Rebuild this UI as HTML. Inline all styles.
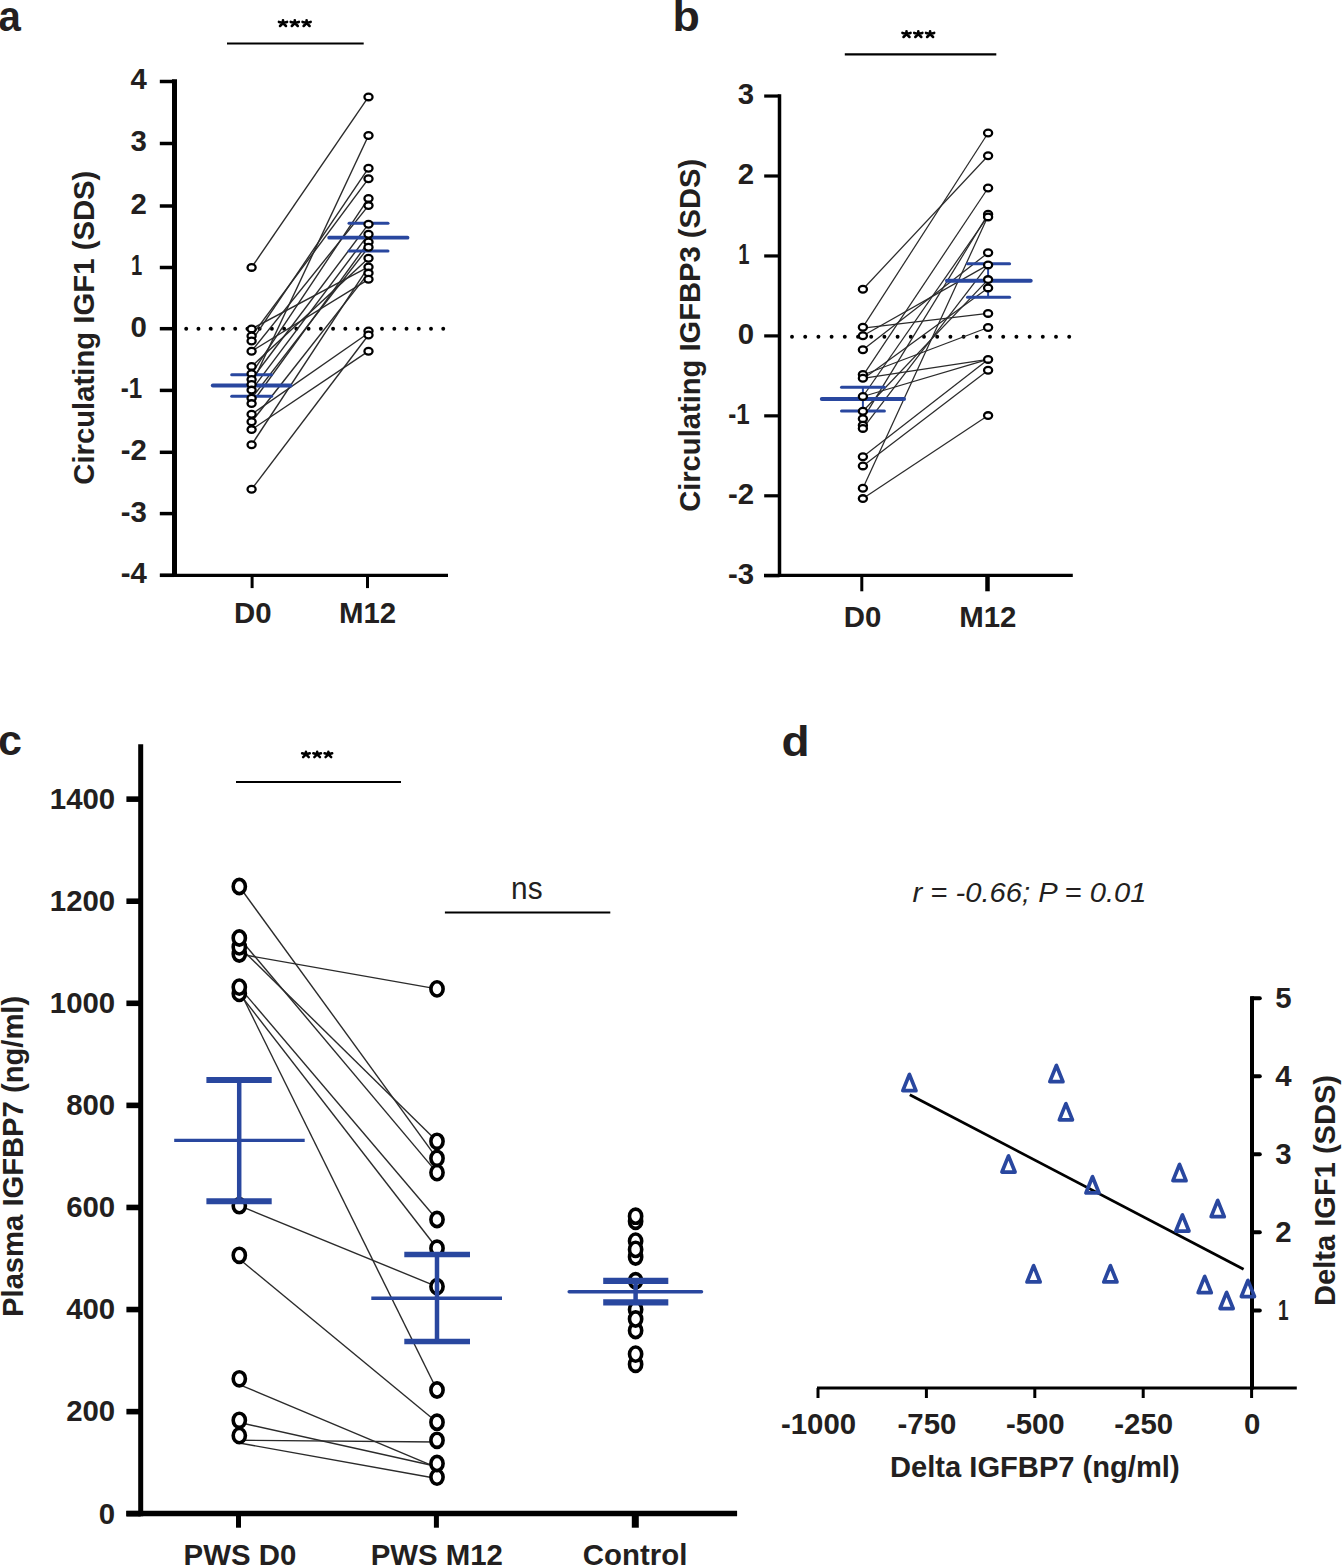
<!DOCTYPE html>
<html><head><meta charset="utf-8"><title>Figure</title>
<style>
html,body{margin:0;padding:0;background:#fff;}
body{width:1342px;height:1566px;overflow:hidden;}
svg{display:block;font-family:"Liberation Sans",sans-serif;}
</style></head>
<body>
<svg width="1342" height="1566" viewBox="0 0 1342 1566">
<rect width="1342" height="1566" fill="#fff"/>
<text transform="matrix(0.40189 0 0 0.42 -1.51 30.68)" font-size="100" font-weight="bold" fill="#231f20">a</text>
<line x1="227" y1="43.6" x2="363.7" y2="43.6" stroke="#000" stroke-width="2" stroke-linecap="butt"/>
<path d="M283 23L283 20.2M283 23L287.06 21.91M283 23L285.97 25.97M283 23L280.03 25.97M283 23L278.94 21.91" stroke="#000" stroke-width="2.6" stroke-linecap="round" fill="none"/>
<path d="M294.8 23L294.8 20.2M294.8 23L298.86 21.91M294.8 23L297.77 25.97M294.8 23L291.83 25.97M294.8 23L290.74 21.91" stroke="#000" stroke-width="2.6" stroke-linecap="round" fill="none"/>
<path d="M306.6 23L306.6 20.2M306.6 23L310.66 21.91M306.6 23L309.57 25.97M306.6 23L303.63 25.97M306.6 23L302.54 21.91" stroke="#000" stroke-width="2.6" stroke-linecap="round" fill="none"/>
<line x1="174.5" y1="79.2" x2="174.5" y2="576.9" stroke="#000" stroke-width="5" stroke-linecap="butt"/>
<line x1="160" y1="575.3" x2="448" y2="575.3" stroke="#000" stroke-width="3.2" stroke-linecap="butt"/>
<line x1="159.8" y1="81.5" x2="174.5" y2="81.5" stroke="#000" stroke-width="3.5" stroke-linecap="butt"/>
<line x1="159.8" y1="143.5" x2="174.5" y2="143.5" stroke="#000" stroke-width="3.5" stroke-linecap="butt"/>
<line x1="159.8" y1="206" x2="174.5" y2="206" stroke="#000" stroke-width="3.5" stroke-linecap="butt"/>
<line x1="159.8" y1="267.5" x2="174.5" y2="267.5" stroke="#000" stroke-width="3.5" stroke-linecap="butt"/>
<line x1="159.8" y1="328.7" x2="174.5" y2="328.7" stroke="#000" stroke-width="3.5" stroke-linecap="butt"/>
<line x1="159.8" y1="390.4" x2="174.5" y2="390.4" stroke="#000" stroke-width="3.5" stroke-linecap="butt"/>
<line x1="159.8" y1="452.3" x2="174.5" y2="452.3" stroke="#000" stroke-width="3.5" stroke-linecap="butt"/>
<line x1="159.8" y1="513.6" x2="174.5" y2="513.6" stroke="#000" stroke-width="3.5" stroke-linecap="butt"/>
<line x1="159.8" y1="575.3" x2="174.5" y2="575.3" stroke="#000" stroke-width="3.5" stroke-linecap="butt"/>
<line x1="252.1" y1="575" x2="252.1" y2="588.1" stroke="#000" stroke-width="3" stroke-linecap="butt"/>
<line x1="367.5" y1="575" x2="367.5" y2="588.1" stroke="#000" stroke-width="3" stroke-linecap="butt"/>
<text transform="matrix(0.294 0 0 0.298 146.8 89.4)" font-size="100" font-weight="bold" text-anchor="end" fill="#231f20">4</text>
<text transform="matrix(0.294 0 0 0.298 146.8 151.4)" font-size="100" font-weight="bold" text-anchor="end" fill="#231f20">3</text>
<text transform="matrix(0.294 0 0 0.298 146.8 213.9)" font-size="100" font-weight="bold" text-anchor="end" fill="#231f20">2</text>
<text transform="matrix(0.202 0 0 0.298 142.2 275.4)" font-size="100" font-weight="bold" text-anchor="end" fill="#231f20">1</text>
<text transform="matrix(0.294 0 0 0.298 146.8 336.6)" font-size="100" font-weight="bold" text-anchor="end" fill="#231f20">0</text>
<text transform="matrix(0.2415 0 0 0.298 142.2 398.3)" font-size="100" font-weight="bold" text-anchor="end" fill="#231f20">-1</text>
<text transform="matrix(0.294 0 0 0.298 146.8 460.2)" font-size="100" font-weight="bold" text-anchor="end" fill="#231f20">-2</text>
<text transform="matrix(0.294 0 0 0.298 146.8 521.5)" font-size="100" font-weight="bold" text-anchor="end" fill="#231f20">-3</text>
<text transform="matrix(0.294 0 0 0.298 146.8 583.1)" font-size="100" font-weight="bold" text-anchor="end" fill="#231f20">-4</text>
<text transform="matrix(0 -0.29304 0.29149 0 94.08 484.77)" font-size="100" font-weight="bold" fill="#231f20">Circulating IGF1 (SDS)</text>
<text transform="matrix(0.294 0 0 0.298 252.9 622.9)" font-size="100" font-weight="bold" text-anchor="middle" fill="#231f20">D0</text>
<text transform="matrix(0.294 0 0 0.298 367.5 622.9)" font-size="100" font-weight="bold" text-anchor="middle" fill="#231f20">M12</text>
<circle cx="186.2" cy="328.7" r="1.95" fill="#000"/>
<circle cx="198.44" cy="328.7" r="1.95" fill="#000"/>
<circle cx="210.68" cy="328.7" r="1.95" fill="#000"/>
<circle cx="222.92" cy="328.7" r="1.95" fill="#000"/>
<circle cx="235.16" cy="328.7" r="1.95" fill="#000"/>
<circle cx="247.4" cy="328.7" r="1.95" fill="#000"/>
<circle cx="259.64" cy="328.7" r="1.95" fill="#000"/>
<circle cx="271.88" cy="328.7" r="1.95" fill="#000"/>
<circle cx="284.12" cy="328.7" r="1.95" fill="#000"/>
<circle cx="296.36" cy="328.7" r="1.95" fill="#000"/>
<circle cx="308.6" cy="328.7" r="1.95" fill="#000"/>
<circle cx="320.84" cy="328.7" r="1.95" fill="#000"/>
<circle cx="333.08" cy="328.7" r="1.95" fill="#000"/>
<circle cx="345.32" cy="328.7" r="1.95" fill="#000"/>
<circle cx="357.56" cy="328.7" r="1.95" fill="#000"/>
<circle cx="369.8" cy="328.7" r="1.95" fill="#000"/>
<circle cx="382.04" cy="328.7" r="1.95" fill="#000"/>
<circle cx="394.28" cy="328.7" r="1.95" fill="#000"/>
<circle cx="406.52" cy="328.7" r="1.95" fill="#000"/>
<circle cx="418.76" cy="328.7" r="1.95" fill="#000"/>
<circle cx="431" cy="328.7" r="1.95" fill="#000"/>
<circle cx="443.24" cy="328.7" r="1.95" fill="#000"/>
<line x1="251.6" y1="267.4" x2="368.5" y2="96.9" stroke="#2b2b2b" stroke-width="1.4" stroke-linecap="butt"/>
<line x1="251.6" y1="328.9" x2="368.5" y2="266.9" stroke="#2b2b2b" stroke-width="1.4" stroke-linecap="butt"/>
<line x1="251.6" y1="335.9" x2="368.5" y2="178.7" stroke="#2b2b2b" stroke-width="1.4" stroke-linecap="butt"/>
<line x1="251.6" y1="341" x2="368.5" y2="168.2" stroke="#2b2b2b" stroke-width="1.4" stroke-linecap="butt"/>
<line x1="251.6" y1="351.2" x2="368.5" y2="279.3" stroke="#2b2b2b" stroke-width="1.4" stroke-linecap="butt"/>
<line x1="251.6" y1="351.2" x2="368.5" y2="205.6" stroke="#2b2b2b" stroke-width="1.4" stroke-linecap="butt"/>
<line x1="251.6" y1="366.4" x2="368.5" y2="258.2" stroke="#2b2b2b" stroke-width="1.4" stroke-linecap="butt"/>
<line x1="251.6" y1="373.7" x2="368.5" y2="198.4" stroke="#2b2b2b" stroke-width="1.4" stroke-linecap="butt"/>
<line x1="251.6" y1="379.4" x2="368.5" y2="224.2" stroke="#2b2b2b" stroke-width="1.4" stroke-linecap="butt"/>
<line x1="251.6" y1="384.5" x2="368.5" y2="135.5" stroke="#2b2b2b" stroke-width="1.4" stroke-linecap="butt"/>
<line x1="251.6" y1="390.1" x2="368.5" y2="234.3" stroke="#2b2b2b" stroke-width="1.4" stroke-linecap="butt"/>
<line x1="251.6" y1="398.3" x2="368.5" y2="247.2" stroke="#2b2b2b" stroke-width="1.4" stroke-linecap="butt"/>
<line x1="251.6" y1="403.6" x2="368.5" y2="242" stroke="#2b2b2b" stroke-width="1.4" stroke-linecap="butt"/>
<line x1="251.6" y1="414.3" x2="368.5" y2="333" stroke="#2b2b2b" stroke-width="1.4" stroke-linecap="butt"/>
<line x1="251.6" y1="421.8" x2="368.5" y2="273.1" stroke="#2b2b2b" stroke-width="1.4" stroke-linecap="butt"/>
<line x1="251.6" y1="429.6" x2="368.5" y2="351.2" stroke="#2b2b2b" stroke-width="1.4" stroke-linecap="butt"/>
<line x1="251.6" y1="444.8" x2="368.5" y2="266.9" stroke="#2b2b2b" stroke-width="1.4" stroke-linecap="butt"/>
<line x1="251.6" y1="489.2" x2="368.5" y2="335" stroke="#2b2b2b" stroke-width="1.4" stroke-linecap="butt"/>
<line x1="212.8" y1="385.5" x2="290.5" y2="385.5" stroke="#29479f" stroke-width="4" stroke-linecap="round"/>
<line x1="231.7" y1="374.8" x2="271.6" y2="374.8" stroke="#29479f" stroke-width="3" stroke-linecap="round"/>
<line x1="231.7" y1="396.2" x2="271.6" y2="396.2" stroke="#29479f" stroke-width="3" stroke-linecap="round"/>
<line x1="329.2" y1="237.7" x2="407.5" y2="237.7" stroke="#29479f" stroke-width="3.8" stroke-linecap="round"/>
<line x1="349" y1="223.2" x2="388" y2="223.2" stroke="#29479f" stroke-width="3" stroke-linecap="round"/>
<line x1="349" y1="251.1" x2="388" y2="251.1" stroke="#29479f" stroke-width="3" stroke-linecap="round"/>
<ellipse cx="251.6" cy="267.4" rx="4.05" ry="3.35" fill="#fff" stroke="#000" stroke-width="2.3"/>
<ellipse cx="251.6" cy="328.9" rx="4.05" ry="3.35" fill="#fff" stroke="#000" stroke-width="2.3"/>
<ellipse cx="251.6" cy="335.9" rx="4.05" ry="3.35" fill="#fff" stroke="#000" stroke-width="2.3"/>
<ellipse cx="251.6" cy="341" rx="4.05" ry="3.35" fill="#fff" stroke="#000" stroke-width="2.3"/>
<ellipse cx="251.6" cy="351.2" rx="4.05" ry="3.35" fill="#fff" stroke="#000" stroke-width="2.3"/>
<ellipse cx="251.6" cy="366.4" rx="4.05" ry="3.35" fill="#fff" stroke="#000" stroke-width="2.3"/>
<ellipse cx="251.6" cy="373.7" rx="4.05" ry="3.35" fill="#fff" stroke="#000" stroke-width="2.3"/>
<ellipse cx="251.6" cy="379.4" rx="4.05" ry="3.35" fill="#fff" stroke="#000" stroke-width="2.3"/>
<ellipse cx="251.6" cy="384.5" rx="4.05" ry="3.35" fill="#fff" stroke="#000" stroke-width="2.3"/>
<ellipse cx="251.6" cy="390.1" rx="4.05" ry="3.35" fill="#fff" stroke="#000" stroke-width="2.3"/>
<ellipse cx="251.6" cy="398.3" rx="4.05" ry="3.35" fill="#fff" stroke="#000" stroke-width="2.3"/>
<ellipse cx="251.6" cy="403.6" rx="4.05" ry="3.35" fill="#fff" stroke="#000" stroke-width="2.3"/>
<ellipse cx="251.6" cy="414.3" rx="4.05" ry="3.35" fill="#fff" stroke="#000" stroke-width="2.3"/>
<ellipse cx="251.6" cy="421.8" rx="4.05" ry="3.35" fill="#fff" stroke="#000" stroke-width="2.3"/>
<ellipse cx="251.6" cy="429.6" rx="4.05" ry="3.35" fill="#fff" stroke="#000" stroke-width="2.3"/>
<ellipse cx="251.6" cy="444.8" rx="4.05" ry="3.35" fill="#fff" stroke="#000" stroke-width="2.3"/>
<ellipse cx="251.6" cy="489.2" rx="4.05" ry="3.35" fill="#fff" stroke="#000" stroke-width="2.3"/>
<ellipse cx="368.5" cy="96.9" rx="4.05" ry="3.35" fill="#fff" stroke="#000" stroke-width="2.3"/>
<ellipse cx="368.5" cy="135.5" rx="4.05" ry="3.35" fill="#fff" stroke="#000" stroke-width="2.3"/>
<ellipse cx="368.5" cy="168.2" rx="4.05" ry="3.35" fill="#fff" stroke="#000" stroke-width="2.3"/>
<ellipse cx="368.5" cy="178.7" rx="4.05" ry="3.35" fill="#fff" stroke="#000" stroke-width="2.3"/>
<ellipse cx="368.5" cy="198.4" rx="4.05" ry="3.35" fill="#fff" stroke="#000" stroke-width="2.3"/>
<ellipse cx="368.5" cy="205.6" rx="4.05" ry="3.35" fill="#fff" stroke="#000" stroke-width="2.3"/>
<ellipse cx="368.5" cy="224.2" rx="4.05" ry="3.35" fill="#fff" stroke="#000" stroke-width="2.3"/>
<ellipse cx="368.5" cy="234.3" rx="4.05" ry="3.35" fill="#fff" stroke="#000" stroke-width="2.3"/>
<ellipse cx="368.5" cy="242" rx="4.05" ry="3.35" fill="#fff" stroke="#000" stroke-width="2.3"/>
<ellipse cx="368.5" cy="247.2" rx="4.05" ry="3.35" fill="#fff" stroke="#000" stroke-width="2.3"/>
<ellipse cx="368.5" cy="258.2" rx="4.05" ry="3.35" fill="#fff" stroke="#000" stroke-width="2.3"/>
<ellipse cx="368.5" cy="266.9" rx="4.05" ry="3.35" fill="#fff" stroke="#000" stroke-width="2.3"/>
<ellipse cx="368.5" cy="273.1" rx="4.05" ry="3.35" fill="#fff" stroke="#000" stroke-width="2.3"/>
<ellipse cx="368.5" cy="279.3" rx="4.05" ry="3.35" fill="#fff" stroke="#000" stroke-width="2.3"/>
<ellipse cx="368.5" cy="331" rx="4.05" ry="3.35" fill="#fff" stroke="#000" stroke-width="2.3"/>
<ellipse cx="368.5" cy="335" rx="4.05" ry="3.35" fill="#fff" stroke="#000" stroke-width="2.3"/>
<ellipse cx="368.5" cy="351.2" rx="4.05" ry="3.35" fill="#fff" stroke="#000" stroke-width="2.3"/>
<text transform="matrix(0.448 0 0 0.42 672.46 31.1)" font-size="100" font-weight="bold" fill="#231f20">b</text>
<line x1="844.8" y1="54.3" x2="996.3" y2="54.3" stroke="#000" stroke-width="2.2" stroke-linecap="butt"/>
<path d="M906.5 34L906.5 31.2M906.5 34L910.56 32.91M906.5 34L909.47 36.97M906.5 34L903.53 36.97M906.5 34L902.44 32.91" stroke="#000" stroke-width="2.6" stroke-linecap="round" fill="none"/>
<path d="M918.3 34L918.3 31.2M918.3 34L922.36 32.91M918.3 34L921.27 36.97M918.3 34L915.33 36.97M918.3 34L914.24 32.91" stroke="#000" stroke-width="2.6" stroke-linecap="round" fill="none"/>
<path d="M930.1 34L930.1 31.2M930.1 34L934.16 32.91M930.1 34L933.07 36.97M930.1 34L927.13 36.97M930.1 34L926.04 32.91" stroke="#000" stroke-width="2.6" stroke-linecap="round" fill="none"/>
<line x1="779.5" y1="94.2" x2="779.5" y2="576.9" stroke="#000" stroke-width="3.5" stroke-linecap="butt"/>
<line x1="764" y1="575.3" x2="1072.8" y2="575.3" stroke="#000" stroke-width="3.2" stroke-linecap="butt"/>
<line x1="764.2" y1="96.05" x2="779.5" y2="96.05" stroke="#000" stroke-width="3.2" stroke-linecap="butt"/>
<text transform="matrix(0.294 0 0 0.298 754.2 104.25)" font-size="100" font-weight="bold" text-anchor="end" fill="#231f20">3</text>
<line x1="764.2" y1="176" x2="779.5" y2="176" stroke="#000" stroke-width="3.2" stroke-linecap="butt"/>
<text transform="matrix(0.294 0 0 0.298 754.2 184.2)" font-size="100" font-weight="bold" text-anchor="end" fill="#231f20">2</text>
<line x1="764.2" y1="255.95" x2="779.5" y2="255.95" stroke="#000" stroke-width="3.2" stroke-linecap="butt"/>
<text transform="matrix(0.202 0 0 0.298 749.6 264.15)" font-size="100" font-weight="bold" text-anchor="end" fill="#231f20">1</text>
<line x1="764.2" y1="335.9" x2="779.5" y2="335.9" stroke="#000" stroke-width="3.2" stroke-linecap="butt"/>
<text transform="matrix(0.294 0 0 0.298 754.2 344.1)" font-size="100" font-weight="bold" text-anchor="end" fill="#231f20">0</text>
<line x1="764.2" y1="415.85" x2="779.5" y2="415.85" stroke="#000" stroke-width="3.2" stroke-linecap="butt"/>
<text transform="matrix(0.2415 0 0 0.298 749.6 424.05)" font-size="100" font-weight="bold" text-anchor="end" fill="#231f20">-1</text>
<line x1="764.2" y1="495.8" x2="779.5" y2="495.8" stroke="#000" stroke-width="3.2" stroke-linecap="butt"/>
<text transform="matrix(0.294 0 0 0.298 754.2 504)" font-size="100" font-weight="bold" text-anchor="end" fill="#231f20">-2</text>
<line x1="764.2" y1="575.75" x2="779.5" y2="575.75" stroke="#000" stroke-width="3.2" stroke-linecap="butt"/>
<text transform="matrix(0.294 0 0 0.298 754.2 583.95)" font-size="100" font-weight="bold" text-anchor="end" fill="#231f20">-3</text>
<line x1="861.8" y1="575" x2="861.8" y2="591.3" stroke="#000" stroke-width="3" stroke-linecap="butt"/>
<line x1="987.5" y1="575" x2="987.5" y2="591.3" stroke="#000" stroke-width="4.5" stroke-linecap="butt"/>
<text transform="matrix(0 -0.29168 0.29894 0 699.82 511.87)" font-size="100" font-weight="bold" fill="#231f20">Circulating IGFBP3 (SDS)</text>
<text transform="matrix(0.294 0 0 0.298 862.6 627.2)" font-size="100" font-weight="bold" text-anchor="middle" fill="#231f20">D0</text>
<text transform="matrix(0.294 0 0 0.298 987.8 627.2)" font-size="100" font-weight="bold" text-anchor="middle" fill="#231f20">M12</text>
<circle cx="792" cy="336.8" r="1.95" fill="#000"/>
<circle cx="805.2" cy="336.8" r="1.95" fill="#000"/>
<circle cx="818.4" cy="336.8" r="1.95" fill="#000"/>
<circle cx="831.6" cy="336.8" r="1.95" fill="#000"/>
<circle cx="844.8" cy="336.8" r="1.95" fill="#000"/>
<circle cx="858" cy="336.8" r="1.95" fill="#000"/>
<circle cx="871.2" cy="336.8" r="1.95" fill="#000"/>
<circle cx="884.4" cy="336.8" r="1.95" fill="#000"/>
<circle cx="897.6" cy="336.8" r="1.95" fill="#000"/>
<circle cx="910.8" cy="336.8" r="1.95" fill="#000"/>
<circle cx="924" cy="336.8" r="1.95" fill="#000"/>
<circle cx="937.2" cy="336.8" r="1.95" fill="#000"/>
<circle cx="950.4" cy="336.8" r="1.95" fill="#000"/>
<circle cx="963.6" cy="336.8" r="1.95" fill="#000"/>
<circle cx="976.8" cy="336.8" r="1.95" fill="#000"/>
<circle cx="990" cy="336.8" r="1.95" fill="#000"/>
<circle cx="1003.2" cy="336.8" r="1.95" fill="#000"/>
<circle cx="1016.4" cy="336.8" r="1.95" fill="#000"/>
<circle cx="1029.6" cy="336.8" r="1.95" fill="#000"/>
<circle cx="1042.8" cy="336.8" r="1.95" fill="#000"/>
<circle cx="1056" cy="336.8" r="1.95" fill="#000"/>
<circle cx="1069.2" cy="336.8" r="1.95" fill="#000"/>
<line x1="862.9" y1="289.2" x2="988.1" y2="155.8" stroke="#2b2b2b" stroke-width="1.25" stroke-linecap="butt"/>
<line x1="862.9" y1="327.2" x2="988.1" y2="133" stroke="#2b2b2b" stroke-width="1.25" stroke-linecap="butt"/>
<line x1="862.9" y1="328.1" x2="988.1" y2="313.4" stroke="#2b2b2b" stroke-width="1.25" stroke-linecap="butt"/>
<line x1="862.9" y1="335.8" x2="988.1" y2="264.9" stroke="#2b2b2b" stroke-width="1.25" stroke-linecap="butt"/>
<line x1="862.9" y1="349.8" x2="988.1" y2="252.8" stroke="#2b2b2b" stroke-width="1.25" stroke-linecap="butt"/>
<line x1="862.9" y1="375.6" x2="988.1" y2="188" stroke="#2b2b2b" stroke-width="1.25" stroke-linecap="butt"/>
<line x1="862.9" y1="375" x2="988.1" y2="327.5" stroke="#2b2b2b" stroke-width="1.25" stroke-linecap="butt"/>
<line x1="862.9" y1="378.3" x2="988.1" y2="359.4" stroke="#2b2b2b" stroke-width="1.25" stroke-linecap="butt"/>
<line x1="862.9" y1="379" x2="988.1" y2="287.9" stroke="#2b2b2b" stroke-width="1.25" stroke-linecap="butt"/>
<line x1="862.9" y1="396.5" x2="988.1" y2="359.4" stroke="#2b2b2b" stroke-width="1.25" stroke-linecap="butt"/>
<line x1="862.9" y1="396.5" x2="988.1" y2="216" stroke="#2b2b2b" stroke-width="1.25" stroke-linecap="butt"/>
<line x1="862.9" y1="411.2" x2="988.1" y2="279.6" stroke="#2b2b2b" stroke-width="1.25" stroke-linecap="butt"/>
<line x1="862.9" y1="418.8" x2="988.1" y2="214.2" stroke="#2b2b2b" stroke-width="1.25" stroke-linecap="butt"/>
<line x1="862.9" y1="428.4" x2="988.1" y2="264.9" stroke="#2b2b2b" stroke-width="1.25" stroke-linecap="butt"/>
<line x1="862.9" y1="456.8" x2="988.1" y2="359.4" stroke="#2b2b2b" stroke-width="1.25" stroke-linecap="butt"/>
<line x1="862.9" y1="465.9" x2="988.1" y2="370.3" stroke="#2b2b2b" stroke-width="1.25" stroke-linecap="butt"/>
<line x1="862.9" y1="488.2" x2="988.1" y2="216" stroke="#2b2b2b" stroke-width="1.25" stroke-linecap="butt"/>
<line x1="862.9" y1="498.6" x2="988.1" y2="415.6" stroke="#2b2b2b" stroke-width="1.25" stroke-linecap="butt"/>
<line x1="821.8" y1="398.9" x2="904" y2="398.9" stroke="#29479f" stroke-width="4" stroke-linecap="round"/>
<line x1="841.5" y1="387.3" x2="884.4" y2="387.3" stroke="#29479f" stroke-width="3" stroke-linecap="round"/>
<line x1="841.5" y1="410.9" x2="884.4" y2="410.9" stroke="#29479f" stroke-width="3" stroke-linecap="round"/>
<line x1="862.9" y1="387.3" x2="862.9" y2="410.9" stroke="#29479f" stroke-width="2" stroke-linecap="butt"/>
<line x1="947" y1="280.8" x2="1030.7" y2="280.8" stroke="#29479f" stroke-width="4" stroke-linecap="round"/>
<line x1="967.5" y1="263.8" x2="1009.6" y2="263.8" stroke="#29479f" stroke-width="3" stroke-linecap="round"/>
<line x1="967.5" y1="297.2" x2="1009.6" y2="297.2" stroke="#29479f" stroke-width="3" stroke-linecap="round"/>
<line x1="988.1" y1="263.8" x2="988.1" y2="297.2" stroke="#29479f" stroke-width="2" stroke-linecap="butt"/>
<ellipse cx="862.9" cy="289.2" rx="4.05" ry="3.35" fill="#fff" stroke="#000" stroke-width="2.3"/>
<ellipse cx="862.9" cy="327.2" rx="4.05" ry="3.35" fill="#fff" stroke="#000" stroke-width="2.3"/>
<ellipse cx="862.9" cy="335.8" rx="4.05" ry="3.35" fill="#fff" stroke="#000" stroke-width="2.3"/>
<ellipse cx="862.9" cy="349.8" rx="4.05" ry="3.35" fill="#fff" stroke="#000" stroke-width="2.3"/>
<ellipse cx="862.9" cy="374.5" rx="4.05" ry="3.35" fill="#fff" stroke="#000" stroke-width="2.3"/>
<ellipse cx="862.9" cy="378.3" rx="4.05" ry="3.35" fill="#fff" stroke="#000" stroke-width="2.3"/>
<ellipse cx="862.9" cy="396.5" rx="4.05" ry="3.35" fill="#fff" stroke="#000" stroke-width="2.3"/>
<ellipse cx="862.9" cy="411.2" rx="4.05" ry="3.35" fill="#fff" stroke="#000" stroke-width="2.3"/>
<ellipse cx="862.9" cy="418.8" rx="4.05" ry="3.35" fill="#fff" stroke="#000" stroke-width="2.3"/>
<ellipse cx="862.9" cy="425.2" rx="4.05" ry="3.35" fill="#fff" stroke="#000" stroke-width="2.3"/>
<ellipse cx="862.9" cy="428.4" rx="4.05" ry="3.35" fill="#fff" stroke="#000" stroke-width="2.3"/>
<ellipse cx="862.9" cy="456.8" rx="4.05" ry="3.35" fill="#fff" stroke="#000" stroke-width="2.3"/>
<ellipse cx="862.9" cy="465.9" rx="4.05" ry="3.35" fill="#fff" stroke="#000" stroke-width="2.3"/>
<ellipse cx="862.9" cy="488.2" rx="4.05" ry="3.35" fill="#fff" stroke="#000" stroke-width="2.3"/>
<ellipse cx="862.9" cy="498.6" rx="4.05" ry="3.35" fill="#fff" stroke="#000" stroke-width="2.3"/>
<ellipse cx="988.1" cy="133" rx="4.05" ry="3.35" fill="#fff" stroke="#000" stroke-width="2.3"/>
<ellipse cx="988.1" cy="155.8" rx="4.05" ry="3.35" fill="#fff" stroke="#000" stroke-width="2.3"/>
<ellipse cx="988.1" cy="188" rx="4.05" ry="3.35" fill="#fff" stroke="#000" stroke-width="2.3"/>
<ellipse cx="988.1" cy="214.2" rx="4.05" ry="3.35" fill="#fff" stroke="#000" stroke-width="2.3"/>
<ellipse cx="988.1" cy="216.9" rx="4.05" ry="3.35" fill="#fff" stroke="#000" stroke-width="2.3"/>
<ellipse cx="988.1" cy="252.8" rx="4.05" ry="3.35" fill="#fff" stroke="#000" stroke-width="2.3"/>
<ellipse cx="988.1" cy="264.9" rx="4.05" ry="3.35" fill="#fff" stroke="#000" stroke-width="2.3"/>
<ellipse cx="988.1" cy="279.6" rx="4.05" ry="3.35" fill="#fff" stroke="#000" stroke-width="2.3"/>
<ellipse cx="988.1" cy="287.9" rx="4.05" ry="3.35" fill="#fff" stroke="#000" stroke-width="2.3"/>
<ellipse cx="988.1" cy="313.4" rx="4.05" ry="3.35" fill="#fff" stroke="#000" stroke-width="2.3"/>
<ellipse cx="988.1" cy="327.5" rx="4.05" ry="3.35" fill="#fff" stroke="#000" stroke-width="2.3"/>
<ellipse cx="988.1" cy="359.4" rx="4.05" ry="3.35" fill="#fff" stroke="#000" stroke-width="2.3"/>
<ellipse cx="988.1" cy="370.3" rx="4.05" ry="3.35" fill="#fff" stroke="#000" stroke-width="2.3"/>
<ellipse cx="988.1" cy="415.6" rx="4.05" ry="3.35" fill="#fff" stroke="#000" stroke-width="2.3"/>
<text transform="matrix(0.43061 0 0 0.42727 -1.92 755.37)" font-size="100" font-weight="bold" fill="#231f20">c</text>
<line x1="236" y1="781.9" x2="401" y2="781.9" stroke="#000" stroke-width="2" stroke-linecap="butt"/>
<path d="M305.94 754.3L305.94 751.64M305.94 754.3L309.79 753.27M305.94 754.3L308.76 757.12M305.94 754.3L303.12 757.12M305.94 754.3L302.09 753.27" stroke="#000" stroke-width="2.47" stroke-linecap="round" fill="none"/>
<path d="M317.15 754.3L317.15 751.64M317.15 754.3L321 753.27M317.15 754.3L319.97 757.12M317.15 754.3L314.33 757.12M317.15 754.3L313.3 753.27" stroke="#000" stroke-width="2.47" stroke-linecap="round" fill="none"/>
<path d="M328.36 754.3L328.36 751.64M328.36 754.3L332.21 753.27M328.36 754.3L331.18 757.12M328.36 754.3L325.54 757.12M328.36 754.3L324.51 753.27" stroke="#000" stroke-width="2.47" stroke-linecap="round" fill="none"/>
<line x1="444.9" y1="912.5" x2="610.3" y2="912.5" stroke="#000" stroke-width="2.2" stroke-linecap="butt"/>
<text transform="matrix(0.29789 0 0 0.31636 511.11 898.68)" font-size="100"  fill="#231f20">ns</text>
<line x1="140.7" y1="744.3" x2="140.7" y2="1516.2" stroke="#000" stroke-width="5" stroke-linecap="butt"/>
<line x1="126.3" y1="1513.5" x2="737.1" y2="1513.5" stroke="#000" stroke-width="5.4" stroke-linecap="butt"/>
<line x1="126.4" y1="1513.7" x2="140.7" y2="1513.7" stroke="#000" stroke-width="5.6" stroke-linecap="butt"/>
<text transform="matrix(0.294 0 0 0.298 115.2 1523.5)" font-size="100" font-weight="bold" text-anchor="end" fill="#231f20">0</text>
<line x1="126.4" y1="1411.62" x2="140.7" y2="1411.62" stroke="#000" stroke-width="5.6" stroke-linecap="butt"/>
<text transform="matrix(0.294 0 0 0.298 115.2 1421.42)" font-size="100" font-weight="bold" text-anchor="end" fill="#231f20">200</text>
<line x1="126.4" y1="1309.54" x2="140.7" y2="1309.54" stroke="#000" stroke-width="5.6" stroke-linecap="butt"/>
<text transform="matrix(0.294 0 0 0.298 115.2 1319.34)" font-size="100" font-weight="bold" text-anchor="end" fill="#231f20">400</text>
<line x1="126.4" y1="1207.46" x2="140.7" y2="1207.46" stroke="#000" stroke-width="5.6" stroke-linecap="butt"/>
<text transform="matrix(0.294 0 0 0.298 115.2 1217.26)" font-size="100" font-weight="bold" text-anchor="end" fill="#231f20">600</text>
<line x1="126.4" y1="1105.38" x2="140.7" y2="1105.38" stroke="#000" stroke-width="5.6" stroke-linecap="butt"/>
<text transform="matrix(0.294 0 0 0.298 115.2 1115.18)" font-size="100" font-weight="bold" text-anchor="end" fill="#231f20">800</text>
<line x1="126.4" y1="1003.3" x2="140.7" y2="1003.3" stroke="#000" stroke-width="5.6" stroke-linecap="butt"/>
<text transform="matrix(0.294 0 0 0.298 115.2 1013.1)" font-size="100" font-weight="bold" text-anchor="end" fill="#231f20">1000</text>
<line x1="126.4" y1="901.22" x2="140.7" y2="901.22" stroke="#000" stroke-width="5.6" stroke-linecap="butt"/>
<text transform="matrix(0.294 0 0 0.298 115.2 911.02)" font-size="100" font-weight="bold" text-anchor="end" fill="#231f20">1200</text>
<line x1="126.4" y1="799.14" x2="140.7" y2="799.14" stroke="#000" stroke-width="5.6" stroke-linecap="butt"/>
<text transform="matrix(0.294 0 0 0.298 115.2 808.94)" font-size="100" font-weight="bold" text-anchor="end" fill="#231f20">1400</text>
<line x1="238.5" y1="1513" x2="238.5" y2="1527.7" stroke="#000" stroke-width="5" stroke-linecap="butt"/>
<line x1="436.4" y1="1513" x2="436.4" y2="1527.7" stroke="#000" stroke-width="5" stroke-linecap="butt"/>
<line x1="635.3" y1="1513" x2="635.3" y2="1527.7" stroke="#000" stroke-width="7" stroke-linecap="butt"/>
<text transform="matrix(0 -0.292 0.29574 0 22.89 1316.94)" font-size="100" font-weight="bold" fill="#231f20">Plasma IGFBP7 (ng/ml)</text>
<text transform="matrix(0.294 0 0 0.298 239.9 1564.5)" font-size="100" font-weight="bold" text-anchor="middle" fill="#231f20">PWS D0</text>
<text transform="matrix(0.294 0 0 0.298 436.8 1564.5)" font-size="100" font-weight="bold" text-anchor="middle" fill="#231f20">PWS M12</text>
<text transform="matrix(0.294 0 0 0.298 635.1 1564.5)" font-size="100" font-weight="bold" text-anchor="middle" fill="#231f20">Control</text>
<line x1="239.3" y1="886.5" x2="437" y2="1158.3" stroke="#2b2b2b" stroke-width="1.4" stroke-linecap="butt"/>
<line x1="239.3" y1="938" x2="437" y2="1172.6" stroke="#2b2b2b" stroke-width="1.4" stroke-linecap="butt"/>
<line x1="239.3" y1="946.9" x2="437" y2="1141.3" stroke="#2b2b2b" stroke-width="1.4" stroke-linecap="butt"/>
<line x1="239.3" y1="954" x2="437" y2="988.9" stroke="#2b2b2b" stroke-width="1.4" stroke-linecap="butt"/>
<line x1="239.3" y1="987.1" x2="437" y2="1219.5" stroke="#2b2b2b" stroke-width="1.4" stroke-linecap="butt"/>
<line x1="239.3" y1="993.4" x2="437" y2="1248.2" stroke="#2b2b2b" stroke-width="1.4" stroke-linecap="butt"/>
<line x1="239.3" y1="990" x2="437" y2="1390" stroke="#2b2b2b" stroke-width="1.4" stroke-linecap="butt"/>
<line x1="239.3" y1="1205.7" x2="437" y2="1286.6" stroke="#2b2b2b" stroke-width="1.4" stroke-linecap="butt"/>
<line x1="239.3" y1="1259" x2="437" y2="1422.2" stroke="#2b2b2b" stroke-width="1.4" stroke-linecap="butt"/>
<line x1="239.3" y1="1384.6" x2="437" y2="1467.6" stroke="#2b2b2b" stroke-width="1.4" stroke-linecap="butt"/>
<line x1="239.3" y1="1422.5" x2="437" y2="1466.5" stroke="#2b2b2b" stroke-width="1.4" stroke-linecap="butt"/>
<line x1="239.3" y1="1440.2" x2="437" y2="1442" stroke="#2b2b2b" stroke-width="1.4" stroke-linecap="butt"/>
<line x1="239.3" y1="1443" x2="437" y2="1478.5" stroke="#2b2b2b" stroke-width="1.4" stroke-linecap="butt"/>
<ellipse cx="239.3" cy="1435.6" rx="6.1" ry="7.1" fill="#fff" stroke="#000" stroke-width="3.6"/>
<ellipse cx="239.3" cy="1420.3" rx="6.1" ry="7.1" fill="#fff" stroke="#000" stroke-width="3.6"/>
<ellipse cx="239.3" cy="1378.8" rx="6.1" ry="7.1" fill="#fff" stroke="#000" stroke-width="3.6"/>
<ellipse cx="239.3" cy="1255.3" rx="6.1" ry="7.1" fill="#fff" stroke="#000" stroke-width="3.6"/>
<ellipse cx="239.3" cy="1205.7" rx="6.1" ry="7.1" fill="#fff" stroke="#000" stroke-width="3.6"/>
<ellipse cx="239.3" cy="993.4" rx="6.1" ry="7.1" fill="#fff" stroke="#000" stroke-width="3.6"/>
<ellipse cx="239.3" cy="987.1" rx="6.1" ry="7.1" fill="#fff" stroke="#000" stroke-width="3.6"/>
<ellipse cx="239.3" cy="954" rx="6.1" ry="7.1" fill="#fff" stroke="#000" stroke-width="3.6"/>
<ellipse cx="239.3" cy="946.9" rx="6.1" ry="7.1" fill="#fff" stroke="#000" stroke-width="3.6"/>
<ellipse cx="239.3" cy="938" rx="6.1" ry="7.1" fill="#fff" stroke="#000" stroke-width="3.6"/>
<ellipse cx="239.3" cy="886.5" rx="6.1" ry="7.1" fill="#fff" stroke="#000" stroke-width="3.6"/>
<ellipse cx="437" cy="1477.1" rx="6.1" ry="7.1" fill="#fff" stroke="#000" stroke-width="3.6"/>
<ellipse cx="437" cy="1463.5" rx="6.1" ry="7.1" fill="#fff" stroke="#000" stroke-width="3.6"/>
<ellipse cx="437" cy="1440.3" rx="6.1" ry="7.1" fill="#fff" stroke="#000" stroke-width="3.6"/>
<ellipse cx="437" cy="1422.2" rx="6.1" ry="7.1" fill="#fff" stroke="#000" stroke-width="3.6"/>
<ellipse cx="437" cy="1390" rx="6.1" ry="7.1" fill="#fff" stroke="#000" stroke-width="3.6"/>
<ellipse cx="437" cy="1286.6" rx="6.1" ry="7.1" fill="#fff" stroke="#000" stroke-width="3.6"/>
<ellipse cx="437" cy="1248.2" rx="6.1" ry="7.1" fill="#fff" stroke="#000" stroke-width="3.6"/>
<ellipse cx="437" cy="1219.5" rx="6.1" ry="7.1" fill="#fff" stroke="#000" stroke-width="3.6"/>
<ellipse cx="437" cy="1172.6" rx="6.1" ry="7.1" fill="#fff" stroke="#000" stroke-width="3.6"/>
<ellipse cx="437" cy="1158.3" rx="6.1" ry="7.1" fill="#fff" stroke="#000" stroke-width="3.6"/>
<ellipse cx="437" cy="1141.3" rx="6.1" ry="7.1" fill="#fff" stroke="#000" stroke-width="3.6"/>
<ellipse cx="437" cy="988.9" rx="6.1" ry="7.1" fill="#fff" stroke="#000" stroke-width="3.6"/>
<ellipse cx="635.6" cy="1364.3" rx="6.1" ry="7.1" fill="#fff" stroke="#000" stroke-width="3.6"/>
<ellipse cx="635.6" cy="1354.1" rx="6.1" ry="7.1" fill="#fff" stroke="#000" stroke-width="3.6"/>
<ellipse cx="635.6" cy="1330.5" rx="6.1" ry="7.1" fill="#fff" stroke="#000" stroke-width="3.6"/>
<ellipse cx="635.6" cy="1309.4" rx="6.1" ry="7.1" fill="#fff" stroke="#000" stroke-width="3.6"/>
<ellipse cx="635.6" cy="1319" rx="6.1" ry="7.1" fill="#fff" stroke="#000" stroke-width="3.6"/>
<ellipse cx="635.6" cy="1280.7" rx="6.1" ry="7.1" fill="#fff" stroke="#000" stroke-width="3.6"/>
<ellipse cx="635.6" cy="1257" rx="6.1" ry="7.1" fill="#fff" stroke="#000" stroke-width="3.6"/>
<ellipse cx="635.6" cy="1241.1" rx="6.1" ry="7.1" fill="#fff" stroke="#000" stroke-width="3.6"/>
<ellipse cx="635.6" cy="1249.4" rx="6.1" ry="7.1" fill="#fff" stroke="#000" stroke-width="3.6"/>
<ellipse cx="635.6" cy="1221.3" rx="6.1" ry="7.1" fill="#fff" stroke="#000" stroke-width="3.6"/>
<ellipse cx="635.6" cy="1216.2" rx="6.1" ry="7.1" fill="#fff" stroke="#000" stroke-width="3.6"/>
<line x1="206.4" y1="1080" x2="271.7" y2="1080" stroke="#29479f" stroke-width="6" stroke-linecap="butt"/>
<line x1="206.4" y1="1201.2" x2="271.7" y2="1201.2" stroke="#29479f" stroke-width="6" stroke-linecap="butt"/>
<line x1="239.2" y1="1080" x2="239.2" y2="1201.2" stroke="#29479f" stroke-width="4.5" stroke-linecap="butt"/>
<line x1="174.2" y1="1140.4" x2="304.7" y2="1140.4" stroke="#29479f" stroke-width="3.2" stroke-linecap="butt"/>
<line x1="404.3" y1="1254.5" x2="470" y2="1254.5" stroke="#29479f" stroke-width="5.6" stroke-linecap="butt"/>
<line x1="404.3" y1="1341.5" x2="470" y2="1341.5" stroke="#29479f" stroke-width="5.6" stroke-linecap="butt"/>
<line x1="437" y1="1254.5" x2="437" y2="1341.5" stroke="#29479f" stroke-width="4.5" stroke-linecap="butt"/>
<line x1="371.3" y1="1298.2" x2="502" y2="1298.2" stroke="#29479f" stroke-width="3.5" stroke-linecap="butt"/>
<line x1="603.2" y1="1280.9" x2="668.3" y2="1280.9" stroke="#29479f" stroke-width="6.2" stroke-linecap="butt"/>
<line x1="603.2" y1="1302.4" x2="668.3" y2="1302.4" stroke="#29479f" stroke-width="6.2" stroke-linecap="butt"/>
<line x1="635.6" y1="1280.9" x2="635.6" y2="1302.4" stroke="#29479f" stroke-width="4.5" stroke-linecap="butt"/>
<line x1="569.2" y1="1291.8" x2="701.5" y2="1291.8" stroke="#29479f" stroke-width="3.5" stroke-linecap="round"/>
<text transform="matrix(0.46 0 0 0.42055 781.56 756.2)" font-size="100" font-weight="bold" fill="#231f20">d</text>
<text transform="matrix(0.29167 0 0 0.28429 912.52 902.2)" font-size="100" font-style="italic" fill="#231f20">r = -0.66; P = 0.01</text>
<line x1="1252" y1="996.2" x2="1252" y2="1389.6" stroke="#000" stroke-width="4" stroke-linecap="butt"/>
<line x1="817" y1="1388" x2="1296.8" y2="1388" stroke="#000" stroke-width="3.2" stroke-linecap="butt"/>
<line x1="1252" y1="998.2" x2="1259.8" y2="998.2" stroke="#000" stroke-width="4" stroke-linecap="round"/>
<text transform="matrix(0.294 0 0 0.298 1275.3 1007.7)" font-size="100" font-weight="bold" text-anchor="start" fill="#231f20">5</text>
<line x1="1252" y1="1076.25" x2="1259.8" y2="1076.25" stroke="#000" stroke-width="4" stroke-linecap="round"/>
<text transform="matrix(0.294 0 0 0.298 1275.3 1085.75)" font-size="100" font-weight="bold" text-anchor="start" fill="#231f20">4</text>
<line x1="1252" y1="1154.3" x2="1259.8" y2="1154.3" stroke="#000" stroke-width="4" stroke-linecap="round"/>
<text transform="matrix(0.294 0 0 0.298 1275.3 1163.8)" font-size="100" font-weight="bold" text-anchor="start" fill="#231f20">3</text>
<line x1="1252" y1="1232.35" x2="1259.8" y2="1232.35" stroke="#000" stroke-width="4" stroke-linecap="round"/>
<text transform="matrix(0.294 0 0 0.298 1275.3 1241.85)" font-size="100" font-weight="bold" text-anchor="start" fill="#231f20">2</text>
<line x1="1252" y1="1310.4" x2="1259.8" y2="1310.4" stroke="#000" stroke-width="4" stroke-linecap="round"/>
<text transform="matrix(0.19 0 0 0.298 1277.96 1319.9)" font-size="100" font-weight="bold" text-anchor="start" fill="#231f20">1</text>
<line x1="818" y1="1388" x2="818" y2="1398" stroke="#000" stroke-width="3" stroke-linecap="butt"/>
<text transform="matrix(0.294 0 0 0.298 818.5 1433.6)" font-size="100" font-weight="bold" text-anchor="middle" fill="#231f20">-1000</text>
<line x1="926.4" y1="1388" x2="926.4" y2="1398" stroke="#000" stroke-width="3" stroke-linecap="butt"/>
<text transform="matrix(0.294 0 0 0.298 926.9 1433.6)" font-size="100" font-weight="bold" text-anchor="middle" fill="#231f20">-750</text>
<line x1="1034.8" y1="1388" x2="1034.8" y2="1398" stroke="#000" stroke-width="3" stroke-linecap="butt"/>
<text transform="matrix(0.294 0 0 0.298 1035.3 1433.6)" font-size="100" font-weight="bold" text-anchor="middle" fill="#231f20">-500</text>
<line x1="1143.2" y1="1388" x2="1143.2" y2="1398" stroke="#000" stroke-width="3" stroke-linecap="butt"/>
<text transform="matrix(0.294 0 0 0.298 1143.7 1433.6)" font-size="100" font-weight="bold" text-anchor="middle" fill="#231f20">-250</text>
<line x1="1251.6" y1="1388" x2="1251.6" y2="1398" stroke="#000" stroke-width="3" stroke-linecap="butt"/>
<text transform="matrix(0.294 0 0 0.298 1252.1 1433.6)" font-size="100" font-weight="bold" text-anchor="middle" fill="#231f20">0</text>
<text transform="matrix(0 -0.2908 0.29255 0 1334.96 1305.94)" font-size="100" font-weight="bold" fill="#231f20">Delta IGF1 (SDS)</text>
<text transform="matrix(0.29125 0 0 0.28767 890.06 1477.1)" font-size="100" font-weight="bold" fill="#231f20">Delta IGFBP7 (ng/ml)</text>
<line x1="909.8" y1="1094.7" x2="1243.6" y2="1269.2" stroke="#000" stroke-width="2.8" stroke-linecap="butt"/>
<path d="M909.4 1074.45 L902.85 1090.65 L915.95 1090.65Z" fill="none" stroke="#29479f" stroke-width="3.7" stroke-linejoin="round"/>
<path d="M1056.4 1065.45 L1049.85 1081.65 L1062.95 1081.65Z" fill="none" stroke="#29479f" stroke-width="3.7" stroke-linejoin="round"/>
<path d="M1065.9 1103.65 L1059.35 1119.85 L1072.45 1119.85Z" fill="none" stroke="#29479f" stroke-width="3.7" stroke-linejoin="round"/>
<path d="M1008.5 1155.85 L1001.95 1172.05 L1015.05 1172.05Z" fill="none" stroke="#29479f" stroke-width="3.7" stroke-linejoin="round"/>
<path d="M1092.5 1176.75 L1085.95 1192.95 L1099.05 1192.95Z" fill="none" stroke="#29479f" stroke-width="3.7" stroke-linejoin="round"/>
<path d="M1179.5 1164.45 L1172.95 1180.65 L1186.05 1180.65Z" fill="none" stroke="#29479f" stroke-width="3.7" stroke-linejoin="round"/>
<path d="M1217.7 1200.45 L1211.15 1216.65 L1224.25 1216.65Z" fill="none" stroke="#29479f" stroke-width="3.7" stroke-linejoin="round"/>
<path d="M1182.4 1214.85 L1175.85 1231.05 L1188.95 1231.05Z" fill="none" stroke="#29479f" stroke-width="3.7" stroke-linejoin="round"/>
<path d="M1033.6 1265.75 L1027.05 1281.95 L1040.15 1281.95Z" fill="none" stroke="#29479f" stroke-width="3.7" stroke-linejoin="round"/>
<path d="M1110.4 1265.75 L1103.85 1281.95 L1116.95 1281.95Z" fill="none" stroke="#29479f" stroke-width="3.7" stroke-linejoin="round"/>
<path d="M1204.7 1276.45 L1198.15 1292.65 L1211.25 1292.65Z" fill="none" stroke="#29479f" stroke-width="3.7" stroke-linejoin="round"/>
<path d="M1226.6 1292.35 L1220.05 1308.55 L1233.15 1308.55Z" fill="none" stroke="#29479f" stroke-width="3.7" stroke-linejoin="round"/>
<path d="M1247.9 1280.35 L1241.35 1296.55 L1254.45 1296.55Z" fill="none" stroke="#29479f" stroke-width="3.7" stroke-linejoin="round"/>
</svg>
</body></html>
